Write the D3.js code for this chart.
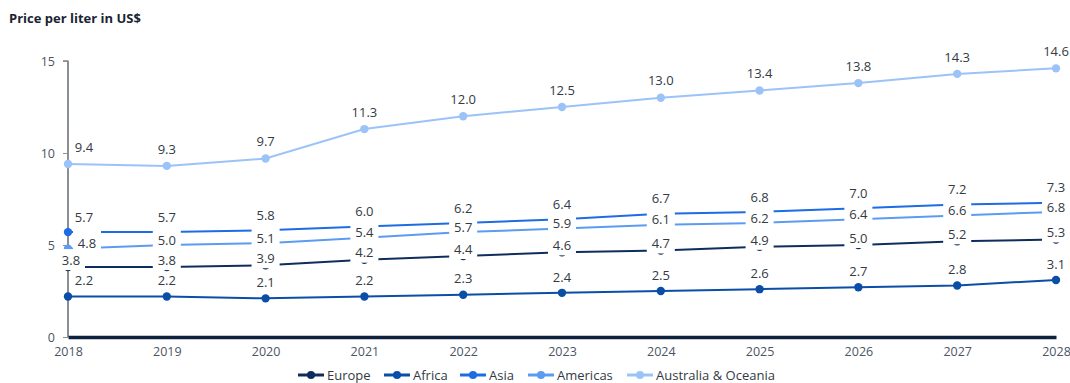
<!DOCTYPE html>
<html>
<head>
<meta charset="utf-8">
<script src="https://cdn.jsdelivr.net/npm/d3@7"></script>
<style>
  html, body { margin: 0; padding: 0; background: #fff; }
  svg { display: block; font-family: "Open Sans", "Noto Sans", sans-serif; }
</style>
</head>
<body>
<svg id="chart" width="1070" height="383"></svg>
<script>
// Price per liter in US$ by region, 2018–2028
const years = [2018, 2019, 2020, 2021, 2022, 2023, 2024, 2025, 2026, 2027, 2028];
const europe    = [3.8, 3.8, 3.9, 4.2, 4.4, 4.6, 4.7, 4.9, 5.0, 5.2, 5.3];
const africa    = [2.2, 2.2, 2.1, 2.2, 2.3, 2.4, 2.5, 2.6, 2.7, 2.8, 3.1];
const asia      = [5.7, 5.7, 5.8, 6.0, 6.2, 6.4, 6.7, 6.8, 7.0, 7.2, 7.3];
const americas  = [4.8, 5.0, 5.1, 5.4, 5.7, 5.9, 6.1, 6.2, 6.4, 6.6, 6.8];
const australia = [9.4, 9.3, 9.7, 11.3, 12.0, 12.5, 13.0, 13.4, 13.8, 14.3, 14.6];
const yTicks = [0, 5, 10, 15];

// Series styling: colour, label offset above point, first-label shift, label mask box
const series = [
  { name: "Europe",              values: europe,    color: "#0f2d5c", dy: -7,  firstDx: 3,  box: [-14, -11, 28, 21] },
  { name: "Africa",              values: africa,    color: "#0b4ea8", dy: -16, firstDx: 16, box: null },
  { name: "Asia",                values: asia,      color: "#1c6ce3", dy: -15, firstDx: 16, box: null },
  { name: "Americas",            values: americas,  color: "#5b9cf2", dy: -5,  firstDx: 19, box: [-14, -15, 28, 27] },
  { name: "Australia & Oceania", values: australia, color: "#9cc3f8", dy: -17, firstDx: 16, box: null }
];

const svg = d3.select("#chart");
const margin = { left: 68, right: 14, top: 61, bottom: 46 };
const W = 1070, H = 383;

const x = d3.scalePoint().domain(years).range([margin.left, W - margin.right]);
const y = d3.scaleLinear().domain([0, 15]).range([H - margin.bottom, margin.top]);

// Title
svg.append("text")
  .attr("x", 9).attr("y", 23)
  .attr("font-size", 13).attr("font-weight", 700)
  .attr("fill", "#1b2433")
  .text("Price per liter in US$");

// Y axis
const yAxis = svg.append("g")
  .attr("transform", `translate(${margin.left},0)`)
  .call(d3.axisLeft(y).tickValues(yTicks).tickSize(5).tickPadding(8).tickFormat(d3.format("d")));
yAxis.select(".domain").attr("stroke", "#3d4551").attr("stroke-width", 1.2)
  .attr("d", `M-5,${y(15)}H0V${y(0)}`);
yAxis.selectAll(".tick line").attr("stroke", "#8a929c");
yAxis.selectAll(".tick text").attr("font-size", 12.5).attr("fill", "#4b5563")
  .attr("font-family", "'Open Sans', sans-serif");

// X axis
const xAxis = svg.append("g")
  .attr("transform", `translate(0,${y(0)})`)
  .call(d3.axisBottom(x).tickSize(0).tickPadding(10).tickFormat(d3.format("d")));
xAxis.select(".domain").attr("stroke", "#0e223f").attr("stroke-width", 3.5);
xAxis.selectAll(".tick text").attr("font-size", 12.5).attr("fill", "#4b5563")
  .attr("font-family", "'Open Sans', sans-serif");

// Lines
const line = d3.line().x((d, i) => x(years[i])).y(d => y(d));
const plot = svg.append("g");
series.forEach(s => {
  plot.append("path")
    .datum(s.values)
    .attr("fill", "none")
    .attr("stroke", s.color)
    .attr("stroke-width", 2)
    .attr("d", line);
});

// Markers
series.forEach(s => {
  plot.append("g").selectAll("circle")
    .data(s.values)
    .join("circle")
    .attr("cx", (d, i) => x(years[i]))
    .attr("cy", d => y(d))
    .attr("r", 4.2)
    .attr("fill", s.color);
});

// Data labels: mask boxes first, then all texts on top
const labelPos = (s, v, i) => [x(years[i]) + (i === 0 ? s.firstDx : 0), y(v) + s.dy];
const boxes = svg.append("g");
const texts = svg.append("g");
series.forEach(s => {
  s.values.forEach((v, i) => {
    const [cx, cy] = labelPos(s, v, i);
    if (s.box) {
      boxes.append("rect")
        .attr("x", cx + s.box[0]).attr("y", cy + s.box[1])
        .attr("width", s.box[2]).attr("height", s.box[3])
        .attr("fill", "#fff");
    }
    texts.append("text")
      .attr("x", cx).attr("y", cy)
      .attr("text-anchor", "middle")
      .attr("dy", "0.36em")
      .attr("font-size", 13)
      .attr("fill", "#333a44")
      .text(d3.format(".1f")(v));
  });
});

// Legend
const legendX = [298, 384, 460, 528, 627];
const legend = svg.append("g").attr("transform", `translate(0,375)`);
series.forEach((s, i) => {
  const g = legend.append("g").attr("transform", `translate(${legendX[i]},0)`);
  g.append("line").attr("x1", 0).attr("x2", 26).attr("y1", 0).attr("y2", 0)
    .attr("stroke", s.color).attr("stroke-width", 3);
  g.append("circle").attr("cx", 13).attr("cy", 0).attr("r", 4).attr("fill", s.color);
  g.append("text").attr("x", 29).attr("dy", "0.35em")
    .attr("font-size", 13).attr("fill", "#333a44")
    .text(s.name);
});
</script>
</body>
</html>
